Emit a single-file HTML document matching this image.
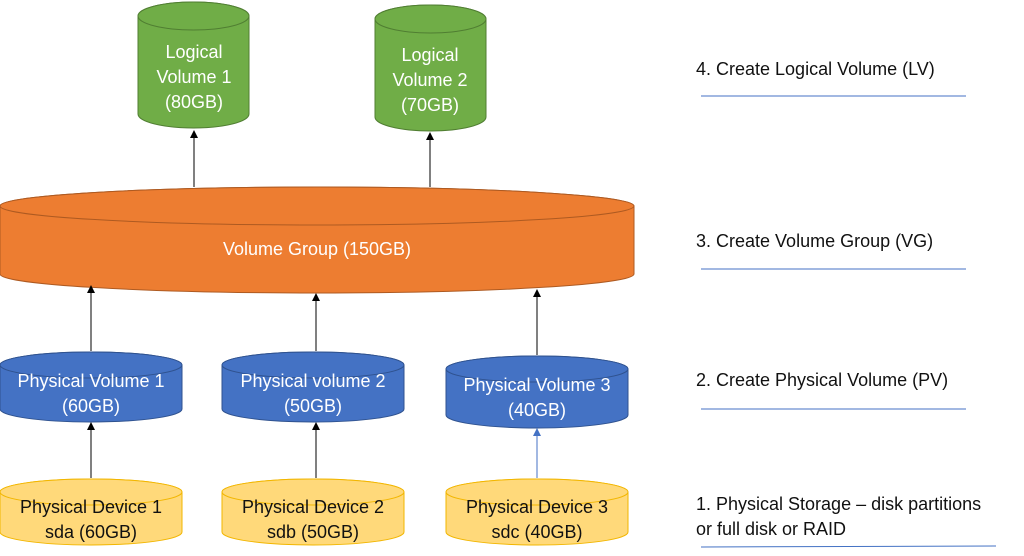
<!DOCTYPE html>
<html><head><meta charset="utf-8"><style>
html,body{margin:0;padding:0;background:#fff;}
svg{display:block;font-family:"Liberation Sans",sans-serif;}
</style></head><body>
<svg width="1024" height="556" viewBox="0 0 1024 556" xmlns="http://www.w3.org/2000/svg">
<defs>
<marker id="ab" markerWidth="8" markerHeight="8" refX="4" refY="4" orient="auto-start-reverse" markerUnits="userSpaceOnUse"><path d="M0,0 L8,4 L0,8 Z" fill="#000"/></marker>
<marker id="abl" markerWidth="8" markerHeight="8" refX="4" refY="4" orient="auto-start-reverse" markerUnits="userSpaceOnUse"><path d="M0,0 L8,4 L0,8 Z" fill="#4472c4"/></marker>
</defs>

<g fill="#70ad47" stroke="#507e32" stroke-width="1">
<path d="M138,16 A55.5,14 0 0 1 249,16 L249,114 A55.5,14 0 0 1 138,114 Z"/>
<ellipse cx="193.5" cy="16" rx="55.5" ry="14"/>
<path d="M375,19 A55.5,14 0 0 1 486,19 L486,117 A55.5,14 0 0 1 375,117 Z"/>
<ellipse cx="430.5" cy="19" rx="55.5" ry="14"/>
</g>
<g fill="#fff" font-size="18" text-anchor="middle">
<text x="194" y="58">Logical</text><text x="194" y="83">Volume 1</text><text x="194" y="108">(80GB)</text>
<text x="430" y="61">Logical</text><text x="430" y="86">Volume 2</text><text x="430" y="111">(70GB)</text>
</g>

<g fill="#ed7d31" stroke="#ae5a21" stroke-width="1">
<path d="M0,206 A317,19 0 0 1 634,206 L634,274 A317,19 0 0 1 0,274 Z"/>
<ellipse cx="317" cy="206" rx="317" ry="19"/>
</g>
<text x="317" y="255" fill="#fff" font-size="18" text-anchor="middle">Volume Group (150GB)</text>

<line x1="194" y1="187" x2="194" y2="134" stroke="#000" stroke-width="1" marker-end="url(#ab)"/>
<line x1="430" y1="187" x2="430" y2="136" stroke="#000" stroke-width="1" marker-end="url(#ab)"/>

<g fill="#4472c4" stroke="#2f528f" stroke-width="1">
<path d="M0,365 A91,13 0 0 1 182,365 L182,409 A91,13 0 0 1 0,409 Z"/>
<ellipse cx="91" cy="365" rx="91" ry="13"/>
<path d="M222,365 A91,13 0 0 1 404,365 L404,409 A91,13 0 0 1 222,409 Z"/>
<ellipse cx="313" cy="365" rx="91" ry="13"/>
<path d="M446,369 A91,13 0 0 1 628,369 L628,415 A91,13 0 0 1 446,415 Z"/>
<ellipse cx="537" cy="369" rx="91" ry="13"/>
</g>
<g fill="#fff" font-size="18" text-anchor="middle">
<text x="91" y="387">Physical Volume 1</text><text x="91" y="412">(60GB)</text>
<text x="313" y="387">Physical volume 2</text><text x="313" y="412">(50GB)</text>
<text x="537" y="391">Physical Volume 3</text><text x="537" y="416">(40GB)</text>
</g>

<line x1="91" y1="351" x2="91" y2="289" stroke="#000" marker-end="url(#ab)"/>
<line x1="316" y1="351" x2="316" y2="297" stroke="#000" marker-end="url(#ab)"/>
<line x1="537" y1="355" x2="537" y2="293" stroke="#000" marker-end="url(#ab)"/>

<g fill="#ffd97a" stroke="#f2b600" stroke-width="1">
<path d="M0,492 A91,13 0 0 1 182,492 L182,532 A91,13 0 0 1 0,532 Z"/>
<ellipse cx="91" cy="492" rx="91" ry="13"/>
<path d="M222,492 A91,13 0 0 1 404,492 L404,532 A91,13 0 0 1 222,532 Z"/>
<ellipse cx="313" cy="492" rx="91" ry="13"/>
<path d="M446,492 A91,13 0 0 1 628,492 L628,532 A91,13 0 0 1 446,532 Z"/>
<ellipse cx="537" cy="492" rx="91" ry="13"/>
</g>
<g fill="#111" font-size="18" text-anchor="middle">
<text x="91" y="513">Physical Device 1</text><text x="91" y="538">sda (60GB)</text>
<text x="313" y="513">Physical Device 2</text><text x="313" y="538">sdb (50GB)</text>
<text x="537" y="513">Physical Device 3</text><text x="537" y="538">sdc (40GB)</text>
</g>

<line x1="91" y1="478" x2="91" y2="426" stroke="#000" marker-end="url(#ab)"/>
<line x1="316" y1="478" x2="316" y2="426" stroke="#000" marker-end="url(#ab)"/>
<line x1="537" y1="478" x2="537" y2="432" stroke="#4472c4" marker-end="url(#abl)"/>

<g fill="#111" font-size="18">
<text x="696" y="75">4. Create Logical Volume (LV)</text>
<text x="696" y="247">3. Create Volume Group (VG)</text>
<text x="696" y="386">2. Create Physical Volume (PV)</text>
<text x="696" y="510">1. Physical Storage – disk partitions</text>
<text x="696" y="535">or full disk or RAID</text>
</g>
<g stroke="#4472c4" stroke-width="1">
<line x1="701" y1="96" x2="966" y2="96"/>
<line x1="701" y1="269" x2="966" y2="269"/>
<line x1="701" y1="409" x2="966" y2="409"/>
<line x1="701" y1="547" x2="996" y2="546"/>
</g>
</svg>
</body></html>
